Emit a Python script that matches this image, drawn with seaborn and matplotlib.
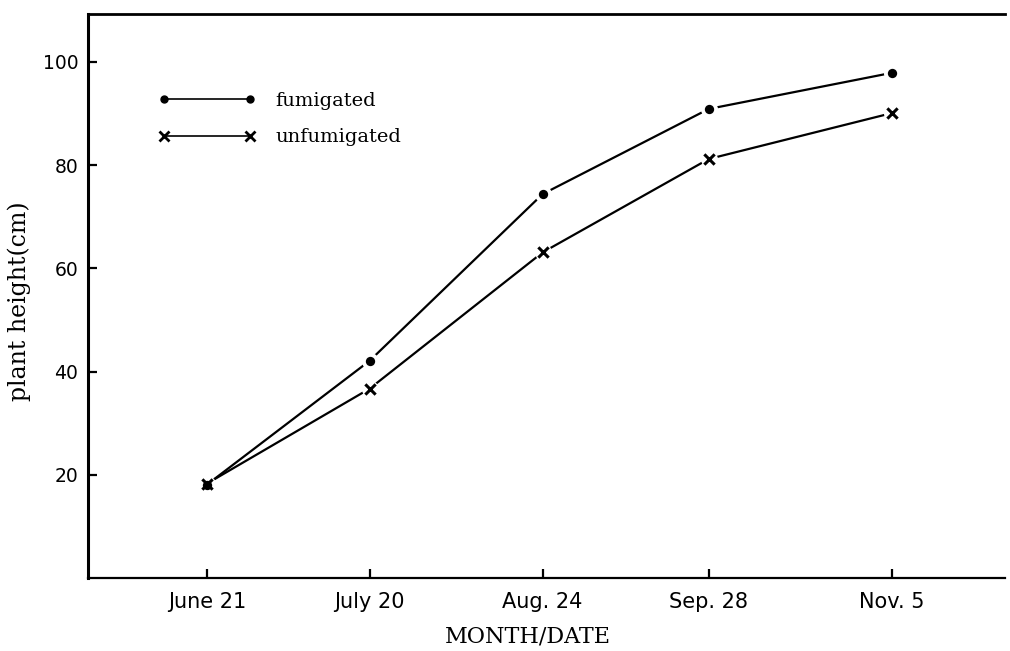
import numpy as np
import pandas as pd
import matplotlib
matplotlib.use("Agg")
import matplotlib.pyplot as plt
import seaborn as sns
from matplotlib.lines import Line2D

# data
dates = ["June 21", "July 20", "Aug. 24", "Sep. 28", "Nov. 5"]
date_pos = [0.0, 0.95, 1.96, 2.93, 4.0]
fumigated = [18.1, 42.1, 74.4, 90.9, 97.9]
unfumigated = [18.3, 36.7, 63.1, 81.2, 90.1]

df = pd.DataFrame({
    "pos": date_pos * 2,
    "height": fumigated + unfumigated,
    "treatment": ["fumigated"] * 5 + ["unfumigated"] * 5,
})

sns.set_style("ticks", {"axes.edgecolor": "black", "xtick.color": "black",
                        "ytick.color": "black", "text.color": "black",
                        "axes.labelcolor": "black"})
plt.rcParams["font.family"] = ["DejaVu Serif"]

fig = plt.figure(figsize=(10.1, 6.51), dpi=100)
ax = fig.add_axes([0.0871, 0.1121, 0.9079, 0.8664])

sns.lineplot(data=df, x="pos", y="height", hue="treatment",
             palette=["black", "black"], linewidth=1.6, legend=False, ax=ax)
# white halos so the line stops just short of each marker
sns.scatterplot(data=df, x="pos", y="height", color="white", s=150,
                linewidth=0, legend=False, ax=ax, zorder=3)
sns.scatterplot(data=df[df.treatment == "fumigated"], x="pos", y="height",
                color="black", marker="o", s=45, linewidth=0, legend=False,
                ax=ax, zorder=4)
sns.scatterplot(data=df[df.treatment == "unfumigated"], x="pos", y="height",
                color="black", marker="x", s=55, linewidth=2.2, legend=False,
                ax=ax, zorder=4)

ax.set_xlim(-0.695, 4.66)
ax.set_ylim(0, 109.3)
ax.set_xticks(date_pos)
ax.set_xticklabels(dates, fontfamily="DejaVu Sans", fontsize=15)
ax.set_yticks([20, 40, 60, 80, 100])
ax.set_yticklabels(["20", "40", "60", "80", "100"], fontfamily="DejaVu Sans",
                   fontsize=13.5)
ax.tick_params(direction="in", length=6.5, width=1.6, pad=7, colors="black")
ax.tick_params(axis="x", pad=10)

sns.despine(ax=ax, top=False, right=True)
ax.spines["left"].set_linewidth(2.2)
ax.spines["bottom"].set_linewidth(1.6)
ax.spines["top"].set_linewidth(2.0)

ax.set_xlabel("MONTH/DATE", fontsize=16)
ax.xaxis.set_label_coords(0.48, -0.085)
ax.set_ylabel("plant height(cm)", fontsize=17)
ax.yaxis.set_label_coords(-0.062, 0.49)

handles = [
    Line2D([], [], color="black", lw=1.2, marker="o", ms=5),
    Line2D([], [], color="black", lw=1.2, marker="x", ms=7, mew=2),
]
ax.legend(handles, ["fumigated", "unfumigated"], loc="upper left",
          bbox_to_anchor=(0.058, 0.893), frameon=False, numpoints=2,
          handlelength=5.0, handletextpad=1.0, labelspacing=0.95, fontsize=14)

fig.savefig("out.png", dpi=100)
